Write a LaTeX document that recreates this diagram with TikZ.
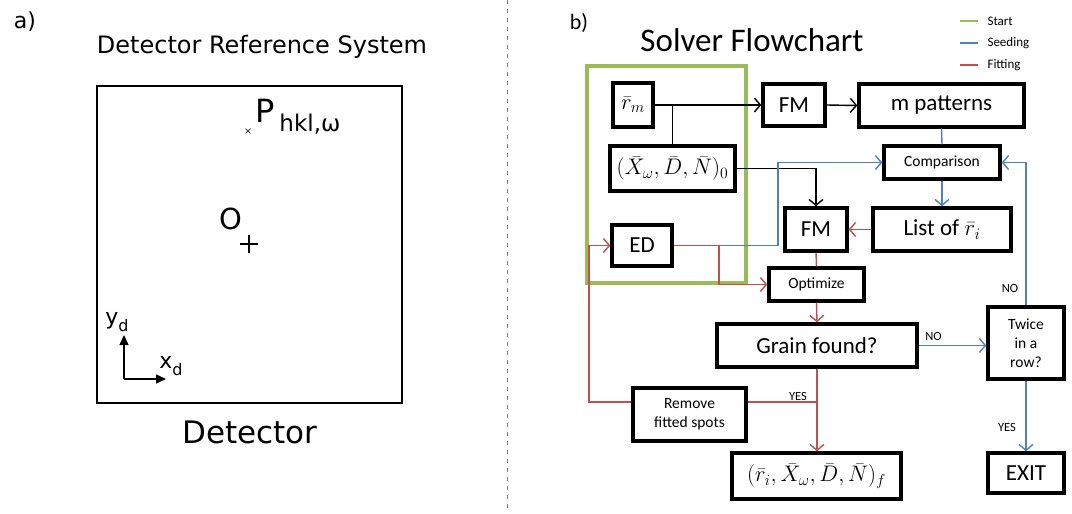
\RequirePackage{fix-cm}
\documentclass[tikz,border=0pt]{standalone}
\usepackage{amsmath}
\usepackage{fontspec}
\setmainfont{Carlito}
\newfontfamily\verd{DejaVu Sans}
\usetikzlibrary{arrows.meta}
\definecolor{startgreen}{RGB}{155,187,89}
\definecolor{seedblue}{RGB}{79,129,189}
\definecolor{fitred}{RGB}{192,80,77}
\newcommand\lowsub[2]{\raisebox{-0.3em}{\fontsize{#1}{#1}\selectfont #2}}

\begin{document}
\begin{tikzpicture}[x=1pt,y=-1pt,
    box/.style={draw,line width=3.4pt,inner sep=0pt,align=center},
    bigtxt/.style={font=\fontsize{23}{27}\selectfont},
    mathtxt/.style={font=\fontsize{22.5}{26}\selectfont},
    midtxt/.style={font=\fontsize{15.5}{19}\selectfont},
    tag/.style={font=\fontsize{12.5}{14}\selectfont},
    link/.style={line width=1.4pt},
    tip/.style={-{Straight Barb[length=6pt,width=14pt]}}]
  \useasboundingbox (0,0) rectangle (1072,514);
  % a) detector
  \node[font=\verd\fontsize{22}{22}\selectfont] (la) at (25,22) {a)};
  \node[font=\verd\fontsize{24}{24}\selectfont] (dtitle) at (262,47) {Detector Reference System};
  \node[draw,line width=1.4pt,minimum width=305pt,minimum height=317pt] (det) at (249.5,244.5) {};
  \node[font=\verd\fontsize{31}{31}\selectfont] (dname) at (250,432) {Detector};
  \node[font=\verd\fontsize{29}{29}\selectfont] (orig) at (231,219) {O};
  \draw[line width=1.3pt] (240,244) -- (258,244) (249,235) -- (249,253);
  \draw[line width=0.7pt] (245.5,128.5) -- (250.5,133.5) (245.5,133.5) -- (250.5,128.5);
  \node[anchor=base west,inner sep=0pt,font=\verd\fontsize{32}{32}\selectfont] (pnt) at (255,122)
    {P\hspace{5pt}\lowsub{23}{hkl,ω}};
  \coordinate (ax0) at (124,379);
  \draw[line width=1.5pt,-{Triangle[length=10pt,width=9pt]}] (ax0) -- (166,379);
  \draw[line width=1.5pt,-{Triangle[length=10pt,width=9pt]}] (ax0) -- (124,335);
  \node[font=\verd\fontsize{22}{22}\selectfont] (ylab) at (117,322) {y\lowsub{16}{d}};
  \node[font=\verd\fontsize{22}{22}\selectfont] (xlab) at (171,366) {x\lowsub{16}{d}};
  \draw[gray,line width=0.9pt,dash pattern=on 4pt off 5pt] (507,0) -- (507,510);
  % b) solver
  \node[font=\fontsize{22}{22}\selectfont] (lb) at (579,23) {b)};
  \node[font=\fontsize{33}{33}\selectfont] (stitle) at (752,40) {Solver Flowchart};
  \foreach \c/\t/\y in {startgreen/Start/21,seedblue/Seeding/43,fitred/Fitting/65} {
    \draw[\c,line width=1.8pt] (960,\y) -- (978,\y);
    \node[anchor=west,font=\fontsize{13}{13}\selectfont] (leg\t) at (984,\y) {\t};
  }
  \draw[startgreen,line width=3.6pt] (587,66) rectangle (746,283);

  \node[box,mathtxt,minimum width=40pt,minimum height=44pt] (rm) at (633,105) {$\bar{r}_m$};
  \node[box,mathtxt,minimum width=125pt,minimum height=45pt] (xdn0) at (672.5,168.5)
    {$(\bar{X}_\omega,\bar{D},\bar{N})_0$};
  \node[box,bigtxt,minimum width=60pt,minimum height=41pt] (ed) at (642,245.5) {ED};
  \node[box,bigtxt,minimum width=62pt,minimum height=42pt] (fma) at (794,105) {FM};
  \node[box,bigtxt,minimum width=165pt,minimum height=43pt] (mpat) at (941.5,105.5) {m patterns};
  \node[box,midtxt,minimum width=116pt,minimum height=33pt] (comp) at (942,162.5) {Comparison};
  \node[box,bigtxt,minimum width=62pt,minimum height=43pt] (fmb) at (816,229.5) {FM};
  \node[box,bigtxt,minimum width=138pt,minimum height=43pt] (listri) at (942,229.5) {List of $\bar{r}_i$};
  \node[box,midtxt,minimum width=95pt,minimum height=33pt] (opt) at (816.5,284.5) {Optimize};
  \node[box,bigtxt,minimum width=200pt,minimum height=43pt] (grain) at (817,345.5) {Grain found?};
  \node[box,midtxt,minimum width=76pt,minimum height=72pt] (twice) at (1026,343) {Twice\\in a\\row?};
  \node[box,midtxt,minimum width=113pt,minimum height=53pt] (remove) at (689.5,414.5) {Remove\\fitted spots};
  \node[box,mathtxt,minimum width=169pt,minimum height=46pt] (final) at (816.5,476)
    {$(\bar{r}_i,\bar{X}_\omega,\bar{D},\bar{N})_f$};
  \node[box,bigtxt,minimum width=76pt,minimum height=40pt] (exit) at (1026,473) {EXIT};

  % start
  \draw[link,tip] (rm.east) -- (fma.west);
  \draw[link] (xdn0.north) -- (xdn0.north |- rm.east);
  \draw[link,tip] (fma.east) -- (mpat.west);
  \draw[link,tip] (xdn0.east) -| (fmb.north);
  % seeding
  \coordinate (edj) at (719,245.5);
  \coordinate (bturn) at (778,245.5);
  \draw[link,seedblue] (mpat.south) -- (comp.north);
  \draw[link,tip,seedblue] (comp.south) -- (listri.north);
  \draw[link,tip,seedblue] (edj) -- (bturn) |- (comp.west);
  \draw[link,tip,seedblue] (grain.east) -- (grain.east -| twice.west) node[tag,pos=0.22,above=1pt,black] (no1) {NO};
  \draw[link,tip,seedblue] (twice.north) |- (comp.east);
  \draw[link,tip,seedblue] (twice.south) -- (exit.north);
  \node[tag] (no2) at (1010,288) {NO};
  \node[tag] (yes2) at (1007,427) {YES};
  % fitting
  \coordinate (yj) at (817,402);
  \coordinate (rloop) at (589,402);
  \draw[link,tip,fitred] (ed.east) -- (edj) |- (opt.west);
  \draw[link,tip,fitred] (listri.west) -- (fmb.east);
  \draw[link,fitred] (fmb.south) -- (opt.north);
  \draw[link,tip,fitred] (opt.south) -- (grain.north);
  \draw[link,tip,fitred] (grain.south) -- (grain.south |- final.north);
  \draw[link,fitred] (yj) -- (remove.east |- yj);
  \draw[link,tip,fitred] (remove.west |- yj) -- (rloop) |- (ed.west);
  \node[tag] (yes1) at (798,396) {YES};
\end{tikzpicture}
\end{document}
